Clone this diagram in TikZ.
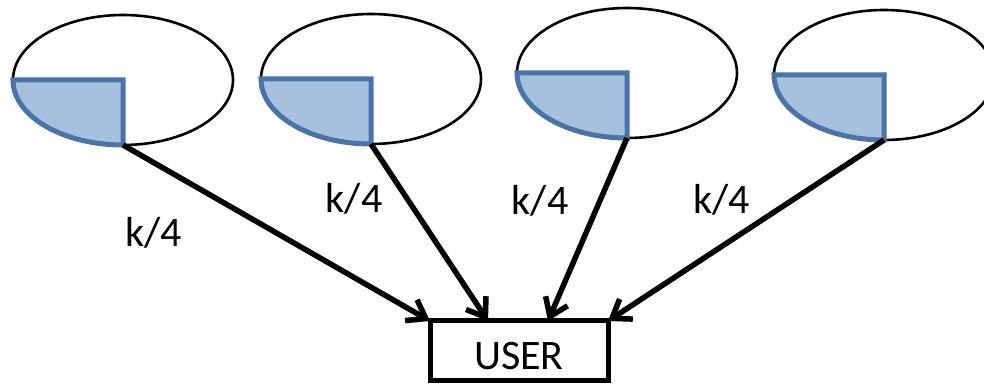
\documentclass[tikz,border=0pt]{standalone}
\usepackage{fontspec}
\setmainfont{Carlito}
\usetikzlibrary{shapes.geometric,arrows.meta,calc}
\definecolor{pieblue}{HTML}{A7C0DE}
\definecolor{pieedge}{HTML}{4A74A6}
\tikzset{
  disk/.style={ellipse, draw=black, line width=2.6pt, minimum width=220pt,
    minimum height=130pt, inner sep=0pt, outer sep=0pt},
  quarter/.style={fill=pieblue, draw=pieedge, line width=5pt},
  share/.style={line width=5.5pt, -{Straight Barb[length=17pt,width=24pt]}},
  sharelabel/.style={anchor=base, font=\fontsize{42}{50}\selectfont, inner sep=0pt},
  userbox/.style={draw=black, line width=5pt, minimum width=178pt,
    minimum height=60pt, inner sep=0pt, outer sep=0pt,
    text height=38pt, text depth=0pt, font=\fontsize{42}{50}\selectfont}
}
\begin{document}
\begin{tikzpicture}[x=1pt,y=1pt]
\useasboundingbox (0,0) rectangle (984,385);

% four data holders, each with its quarter share shaded
\foreach \n/\cx/\cy in {1/123/305, 2/371/306, 3/627/312, 4/884/310} {
  \node[disk] (e\n) at (\cx,\cy) {};
  \draw[quarter] (e\n.west) -- (e\n.center) -- (e\n.south)
    arc[start angle=270, end angle=180, x radius=110, y radius=65] -- cycle;
}

% the receiving user
\node[userbox] (user) at (519,34) {USER};
\coordinate (in2) at ($(user.north)+(-31,0)$);
\coordinate (in3) at ($(user.north)+(29,0)$);

% transfers
\draw[share] (e1.south) -- (user.north west);
\draw[share] (e2.south) -- (in2);
\draw[share] (e3.south) -- (in3);
\draw[share] (e4.south) -- (user.north east);

% transfer sizes
\node[sharelabel] (l1) at (153.5,138) {k/4};
\node[sharelabel] (l2) at (354,172) {k/4};
\node[sharelabel] (l3) at (540,170) {k/4};
\node[sharelabel] (l4) at (721.5,171) {k/4};
\end{tikzpicture}
\end{document}
